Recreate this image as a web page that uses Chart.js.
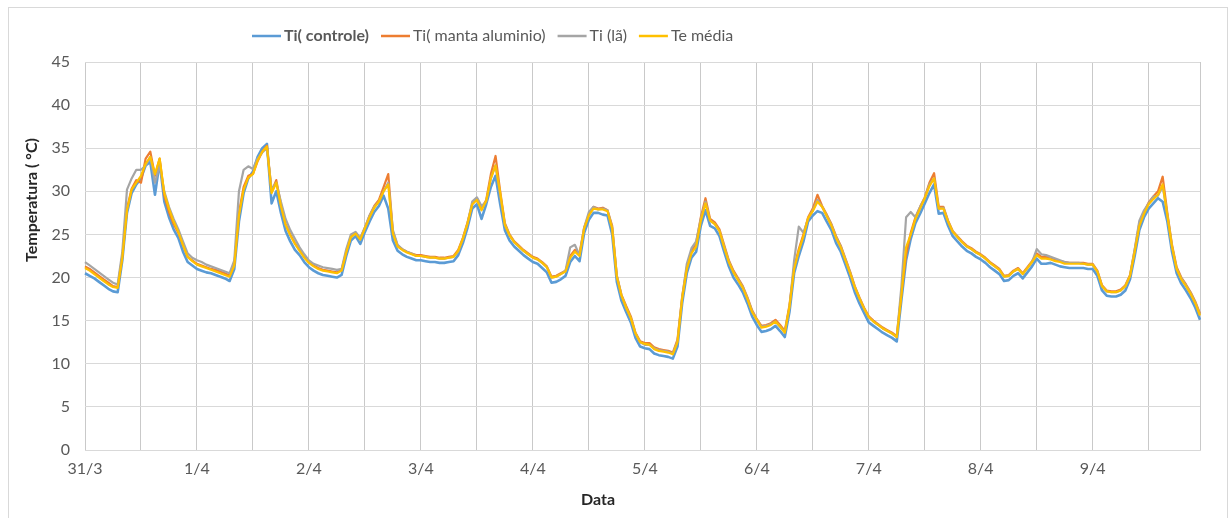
<!DOCTYPE html>
<html>
<head>
<meta charset="utf-8">
<script src="https://cdn.jsdelivr.net/npm/chart.js@4.4.1/dist/chart.umd.min.js"></script>
<style>
  html, body { margin: 0; padding: 0; background: #fff; }
  #wrap { position: relative; width: 1230px; height: 518px; }
  #frame { position: absolute; left: 8px; top: 7px; width: 1218px; height: 520px; border: 1px solid #D9D9D9; pointer-events: none; }
  canvas { position: absolute; left: 0; top: 0; }
</style>
</head>
<body>
<div id="wrap">
  <canvas id="temp-chart" width="1230" height="518"></canvas>
  <div id="frame"></div>
</div>
<script>
"use strict";

/* --- DADOS (leituras horárias, 31/3 a 9/4) --- */

const dias = ['31/3', '1/4', '2/4', '3/4', '4/4', '5/4', '6/4', '7/4', '8/4', '9/4'];

const ti_controle = [
  20.5,20.2,19.9,19.5,19.1,18.7,18.4,18.3,22.0,27.5,29.8,30.8,31.5,33.0,33.4,29.6,33.4,28.8,27.0,25.6,24.6,23.0,21.8,21.4,
  21.0,20.8,20.6,20.5,20.3,20.1,19.9,19.6,21.0,26.5,29.8,31.5,32.3,34.0,35.0,35.5,28.6,30.0,27.5,25.4,24.2,23.2,22.6,21.8,
  21.2,20.8,20.5,20.3,20.2,20.1,20.0,20.3,22.5,24.3,24.8,23.9,25.3,26.5,27.6,28.3,29.5,28.0,24.3,23.1,22.7,22.4,22.2,22.0,
  22.0,21.9,21.8,21.8,21.7,21.7,21.8,21.9,22.6,24.0,25.8,28.0,28.5,26.8,28.5,30.5,31.8,28.5,25.5,24.3,23.6,23.1,22.6,22.2,
  21.8,21.6,21.1,20.6,19.4,19.5,19.8,20.2,21.8,22.5,21.9,25.2,26.7,27.5,27.5,27.3,27.2,25.0,19.5,17.3,16.0,14.8,13.0,12.0,
  11.8,11.7,11.2,11.0,10.9,10.8,10.6,12.0,17.0,20.5,22.3,23.0,26.0,27.8,26.0,25.7,24.8,23.0,21.3,20.0,19.2,18.3,17.0,15.5,
  14.5,13.7,13.8,14.0,14.4,13.8,13.1,16.0,20.5,22.5,24.2,26.5,27.2,27.7,27.5,26.5,25.5,24.0,23.0,21.5,20.0,18.3,17.0,15.9,
  14.8,14.4,14.0,13.6,13.3,13.0,12.6,17.4,22.0,24.5,26.3,27.4,28.6,29.8,30.8,27.4,27.5,26.0,24.8,24.2,23.6,23.1,22.8,22.4,
  22.1,21.7,21.2,20.8,20.4,19.6,19.7,20.2,20.5,19.9,20.6,21.3,22.2,21.6,21.6,21.7,21.5,21.3,21.2,21.1,21.1,21.1,21.1,21.0,
  21.0,20.2,18.5,17.9,17.8,17.8,18.0,18.5,19.8,22.5,25.5,27.0,28.0,28.6,29.2,28.8,26.5,23.0,20.5,19.3,18.5,17.6,16.5,15.1
];

const ti_manta = [
  21.3,21.0,20.6,20.2,19.8,19.4,19.0,18.9,22.5,28.0,30.3,31.3,31.0,33.8,34.6,31.8,33.8,29.5,27.6,26.2,25.2,23.8,22.4,22.0,
  21.6,21.4,21.2,21.0,20.9,20.7,20.5,20.2,21.5,27.5,30.5,31.8,32.0,33.5,34.6,35.3,30.0,31.3,28.5,26.2,25.0,24.0,23.2,22.4,
  21.8,21.4,21.1,20.9,20.8,20.7,20.6,20.9,23.0,24.8,25.2,24.5,25.8,27.2,28.3,29.0,30.5,32.0,25.3,23.7,23.3,23.0,22.8,22.6,
  22.6,22.5,22.4,22.4,22.3,22.3,22.4,22.5,23.2,24.6,26.4,28.5,29.2,28.0,29.0,32.0,34.1,30.0,26.3,25.0,24.2,23.7,23.2,22.8,
  22.4,22.2,21.8,21.3,20.1,20.2,20.5,20.8,22.5,23.2,22.8,25.8,27.3,28.2,28.0,28.1,27.8,26.0,20.2,18.0,16.7,15.5,13.6,12.6,
  12.4,12.4,11.9,11.7,11.6,11.5,11.3,12.8,17.8,21.2,23.0,24.0,27.0,29.2,26.8,26.4,25.6,23.8,22.0,20.8,19.9,19.0,17.7,16.2,
  15.2,14.4,14.5,14.7,15.1,14.5,13.8,16.8,21.2,23.3,25.0,27.0,28.0,29.6,28.3,27.3,26.2,24.8,23.7,22.2,20.7,19.0,17.7,16.5,
  15.5,15.0,14.6,14.2,13.9,13.6,13.2,18.2,22.6,25.2,27.0,28.2,29.3,31.0,32.1,28.2,28.2,26.6,25.4,24.8,24.2,23.7,23.4,23.0,
  22.7,22.3,21.8,21.4,21.0,20.2,20.3,20.8,21.1,20.5,21.2,21.9,22.8,22.4,22.4,22.3,22.1,21.9,21.8,21.7,21.7,21.7,21.7,21.6,
  21.6,20.8,19.1,18.5,18.4,18.4,18.6,19.1,20.3,23.2,26.3,27.6,28.7,29.4,30.0,31.7,27.5,23.8,21.2,20.0,19.2,18.3,17.2,15.8
];

const ti_la = [
  21.8,21.4,21.0,20.6,20.2,19.8,19.4,19.2,23.0,30.2,31.5,32.5,32.5,33.0,34.0,31.0,33.0,30.0,28.2,26.8,25.6,24.2,22.8,22.3,
  22.0,21.8,21.5,21.3,21.1,20.9,20.7,20.5,22.0,30.0,32.5,32.9,32.6,33.8,34.5,35.0,30.2,31.0,28.8,26.8,25.5,24.5,23.5,22.7,
  22.0,21.6,21.4,21.2,21.1,21.0,20.9,21.0,23.3,25.0,25.3,24.6,25.8,27.2,28.2,28.8,30.0,31.0,25.5,23.8,23.3,23.0,22.8,22.5,
  22.5,22.4,22.3,22.3,22.2,22.2,22.3,22.4,23.0,24.5,26.3,28.8,29.3,28.3,28.8,31.5,33.0,29.5,26.2,24.9,24.1,23.6,23.1,22.7,
  22.3,22.1,21.7,21.2,20.0,20.1,20.4,20.8,23.5,23.8,22.6,25.8,27.6,28.2,27.9,28.0,27.8,25.8,20.2,17.9,16.5,15.3,13.5,12.5,
  12.2,12.2,11.8,11.6,11.5,11.4,11.2,12.6,17.6,21.6,23.4,24.2,26.8,28.8,26.6,26.2,25.4,23.6,21.9,20.6,19.8,18.9,17.6,16.1,
  15.1,14.3,14.4,14.6,14.9,14.3,13.7,16.5,22.0,25.9,25.2,26.8,27.8,29.0,28.2,27.2,26.1,24.7,23.6,22.1,20.6,18.9,17.6,16.4,
  15.4,14.9,14.5,14.1,13.8,13.5,13.1,19.0,27.0,27.6,27.0,28.2,29.2,30.8,31.5,28.0,28.1,26.5,25.3,24.7,24.1,23.6,23.3,22.9,
  22.6,22.2,21.7,21.3,20.9,20.1,20.2,20.7,21.0,20.4,21.1,21.8,23.3,22.7,22.6,22.4,22.2,22.0,21.8,21.7,21.7,21.7,21.6,21.5,
  21.5,20.7,19.0,18.4,18.3,18.3,18.5,19.0,20.2,23.3,26.6,27.8,28.6,29.4,29.5,30.6,27.3,23.6,21.0,19.9,19.1,18.2,17.1,15.7
];

const te_media = [
  21.1,20.8,20.4,20.0,19.6,19.2,18.9,18.8,22.3,27.8,30.2,31.0,31.8,33.2,34.0,32.0,33.8,29.8,28.0,26.5,25.3,23.8,22.4,21.9,
  21.5,21.3,21.1,20.9,20.7,20.5,20.3,20.1,21.4,27.2,30.2,31.6,32.0,33.6,34.6,35.2,29.8,31.0,28.3,26.1,24.9,23.9,23.1,22.3,
  21.7,21.3,21.0,20.8,20.7,20.6,20.5,20.8,22.9,24.7,25.1,24.4,25.7,27.0,28.1,28.8,30.0,30.8,25.1,23.6,23.2,22.9,22.7,22.5,
  22.5,22.4,22.3,22.3,22.2,22.2,22.3,22.4,23.1,24.5,26.3,28.5,29.0,27.8,28.9,31.5,33.0,29.8,26.1,24.9,24.1,23.6,23.1,22.7,
  22.3,22.1,21.7,21.2,20.0,20.1,20.4,20.7,22.3,23.0,22.5,25.7,27.2,28.0,27.9,27.9,27.7,25.7,20.1,17.9,16.5,15.3,13.5,12.5,
  12.3,12.2,11.7,11.5,11.4,11.3,11.1,12.5,17.6,21.0,22.8,23.6,26.6,28.6,26.6,26.2,25.4,23.5,21.8,20.6,19.7,18.8,17.5,16.0,
  15.1,14.2,14.3,14.5,14.9,14.3,13.6,16.6,21.0,23.1,24.8,26.9,27.7,28.8,28.2,27.1,26.0,24.6,23.5,22.0,20.5,18.9,17.6,16.4,
  15.4,14.9,14.5,14.1,13.8,13.5,13.1,18.0,23.5,25.0,26.8,28.0,29.2,30.6,31.5,28.0,28.0,26.5,25.3,24.7,24.1,23.6,23.3,22.9,
  22.6,22.2,21.7,21.3,20.9,20.1,20.2,20.7,21.0,20.4,21.1,21.8,22.6,22.2,22.2,22.1,21.9,21.8,21.6,21.6,21.6,21.6,21.6,21.5,
  21.5,20.7,19.0,18.4,18.3,18.3,18.5,19.0,20.2,23.0,26.0,27.4,28.5,29.1,29.6,30.8,27.2,23.6,21.0,19.8,19.0,18.1,17.0,15.6
];

const y_ticks = { min: 0, max: 45, step: 5 };
const titulo_x = 'Data';
const titulo_y = 'Temperatura ( °C)';

/* --- CATEGORIAS (uma por hora) --- */

const horas = [];
dias.forEach(function (d) {
  for (let h = 0; h < 24; h++) {
    horas.push(d + ' ' + String(h).padStart(2, '0') + ':00');
  }
});

const font_family = "Lato, 'Open Sans', sans-serif";
const txt_gray = '#595959';

/* --- LEGENDA + TITULOS DOS EIXOS (posicionados como no Excel) --- */

const excel_extras = {
  id: 'excel_extras',
  afterDraw(chart) {
    const ctx = chart.ctx;
    const y = 36;
    let x = 252;
    ctx.save();
    ctx.textBaseline = 'middle';
    chart.data.datasets.forEach(function (ds, i) {
      ctx.strokeStyle = ds.borderColor;
      ctx.lineWidth = 2.5;
      ctx.beginPath();
      ctx.moveTo(x, y);
      ctx.lineTo(x + 29, y);
      ctx.stroke();
      x += 32;
      ctx.font = (i === 0 ? 'bold ' : '') + '16px ' + font_family;
      ctx.fillStyle = txt_gray;
      ctx.fillText(ds.label, x, y);
      x += ctx.measureText(ds.label).width + 12;
    });

    ctx.fillStyle = '#262626';
    ctx.font = 'bold 16px ' + font_family;
    ctx.textAlign = 'center';
    ctx.fillText(titulo_x, 598, 500);

    ctx.translate(32, 200);
    ctx.rotate(-Math.PI / 2);
    ctx.fillText(titulo_y, 0, 0);
    ctx.restore();
  }
};

/* --- GRAFICO --- */

const temp_canvas = document.getElementById('temp-chart');

let temp_chart = new Chart(temp_canvas, {
  type: 'line',
  data: {
    labels: horas,
    datasets: [
      { label: 'Ti( controle)', data: ti_controle, borderColor: '#5B9BD5', backgroundColor: '#5B9BD5', borderWidth: 2.6, order: 4 },
      { label: 'Ti( manta aluminio)', data: ti_manta, borderColor: '#ED7D31', backgroundColor: '#ED7D31', borderWidth: 2.2, order: 3 },
      { label: 'Ti (lã)', data: ti_la, borderColor: '#A5A5A5', backgroundColor: '#A5A5A5', borderWidth: 2.2, order: 2 },
      { label: 'Te média', data: te_media, borderColor: '#FFC000', backgroundColor: '#FFC000', borderWidth: 2.2, order: 1 }
    ]
  },
  options: {
    responsive: false,
    animation: false,
    devicePixelRatio: 1,
    layout: { padding: { left: 0, right: 30, top: 62, bottom: 0 } },
    elements: {
      point: { radius: 0 },
      line: { tension: 0, borderJoinStyle: 'round' }
    },
    plugins: {
      legend: { display: false },
      tooltip: { enabled: false },
      title: { display: false }
    },
    scales: {
      x: {
        type: 'category',
        offset: false,
        afterFit(scale) { scale.height = 68; },
        grid: {
          drawTicks: false,
          lineWidth: 1,
          color(ctx) {
            return (ctx.index % 12 === 0 || ctx.index === horas.length - 1) ? '#C9C9C9' : 'rgba(0,0,0,0)';
          }
        },
        border: { display: true, color: '#D9D9D9', width: 1 },
        ticks: {
          autoSkip: false,
          maxRotation: 0,
          minRotation: 0,
          padding: 9,
          color: txt_gray,
          font: { family: font_family, size: 16 },
          callback(value, index) {
            return index % 24 === 0 ? dias[index / 24] : '';
          }
        }
      },
      y: {
        min: y_ticks.min,
        max: y_ticks.max,
        afterFit(scale) { scale.width = 85; },
        grid: { drawTicks: false, color: '#D9D9D9', lineWidth: 1 },
        border: { display: false },
        ticks: {
          stepSize: y_ticks.step,
          padding: 15,
          color: txt_gray,
          font: { family: font_family, size: 16 }
        }
      }
    }
  },
  plugins: [excel_extras]
});
</script>
</body>
</html>
